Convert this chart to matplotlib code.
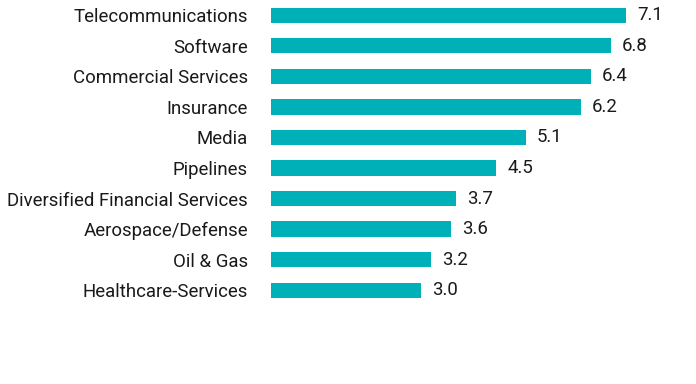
import matplotlib
matplotlib.use('Agg')
import matplotlib.pyplot as plt

# sector weights
sectors = ['Telecommunications', 'Software', 'Commercial Services', 'Insurance', 'Media',
           'Pipelines', 'Diversified Financial Services', 'Aerospace/Defense', 'Oil & Gas',
           'Healthcare-Services']
values = [7.1, 6.8, 6.4, 6.2, 5.1, 4.5, 3.7, 3.6, 3.2, 3.0]

plt.rcParams['font.family'] = ['Roboto', 'DejaVu Sans']

fig = plt.figure(figsize=(6.96, 3.84), dpi=100)
ax = fig.add_axes([271 / 696, 0, 425 / 696, 1])

y = list(range(len(sectors)))
ax.barh(y, values, height=0.5, color='#00B0B9')
for yi, v in zip(y, values):
    ax.annotate('%.1f' % v, (v, yi), xytext=(8, 0), textcoords='offset points',
                va='center', ha='left', fontsize=13.4, color='#1a1a1a')

ax.set_xlim(0, 8.5)
ax.set_ylim(12.07, -0.5)
ax.set_yticks(y)
ax.set_yticklabels(sectors, fontsize=13.4, color='#1a1a1a')
ax.tick_params(axis='y', length=0, pad=16.5)
ax.set_xticks([])
for s in ax.spines.values():
    s.set_visible(False)

fig.savefig('out.png', dpi=100)
